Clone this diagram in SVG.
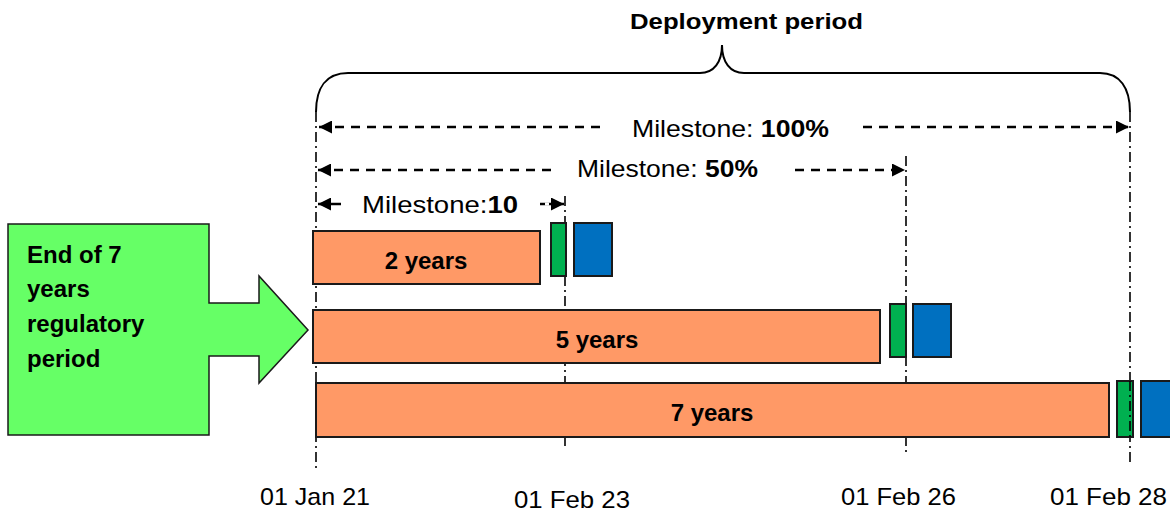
<svg xmlns="http://www.w3.org/2000/svg" width="1170" height="512" viewBox="0 0 1170 512">
  <defs>
    <marker id="tip" viewBox="0 0 10 10" refX="10" refY="5" markerWidth="16" markerHeight="13" markerUnits="userSpaceOnUse" orient="auto-start-reverse">
      <path d="M0,0 L10,5 L0,10 Z" fill="#000"/>
    </marker>
  </defs>
  <style>
    text { font-family: "Liberation Sans", Arial, sans-serif; fill: #000; }
    .b { font-weight: bold; }
    .lbl { font-size: 24px; }
    .bar { fill: #FF9966; stroke: #1a1a1a; stroke-width: 2; }
    .g { fill: #00B050; stroke: #1a1a1a; stroke-width: 2; }
    .bl { fill: #0070C0; stroke: #1a1a1a; stroke-width: 2; }
    .guide { fill: none; stroke: #000; stroke-width: 1.6; stroke-dasharray: 10 4 2 4; }
    .dim { fill: none; stroke: #000; stroke-width: 2.5; stroke-dasharray: 9 7; }
    .dimsolid { fill: none; stroke: #000; stroke-width: 2.5; }
  </style>

  <rect width="1170" height="512" fill="#fff"/>

  <!-- brace over the deployment period -->
  <g id="brace">
    <path d="M316,112 C316,88 326,73 348,73 L700,73 C714,73 722,62 722,45 C722,62 730,73 744,73 L1100,73 C1120,73 1130,88 1130,112" fill="none" stroke="#000" stroke-width="2"/>
    <text class="b" x="630" y="29" font-size="22" textLength="233" lengthAdjust="spacingAndGlyphs">Deployment period</text>
  </g>

  <!-- vertical date guides -->
  <g id="guides">
    <line class="guide" x1="316" y1="112" x2="316" y2="472"/>
    <line class="guide" x1="565" y1="196" x2="565" y2="446"/>
    <line class="guide" x1="906" y1="156" x2="906" y2="452"/>
    <line class="guide" x1="1130" y1="112" x2="1130" y2="462"/>
  </g>

  <!-- milestone dimension arrows -->
  <g id="connectors">
    <line class="dim" x1="319" y1="127" x2="606" y2="127" marker-start="url(#tip)"/>
    <line class="dim" x1="863" y1="127" x2="1129" y2="127" marker-end="url(#tip)"/>
    <line class="dim" x1="318" y1="170" x2="556" y2="170" marker-start="url(#tip)"/>
    <line class="dim" x1="795" y1="170" x2="905" y2="170" marker-end="url(#tip)"/>
    <line class="dimsolid" x1="318" y1="204" x2="341" y2="204" marker-start="url(#tip)"/>
    <line class="dimsolid" x1="540" y1="204" x2="564" y2="204" marker-end="url(#tip)"/>
    <line x1="545" y1="204" x2="549" y2="204" stroke="#fff" stroke-width="3"/>
  </g>

  <g id="milestone-100">
    <text class="lbl" x="632" y="137" textLength="197" lengthAdjust="spacingAndGlyphs">Milestone: <tspan class="b">100%</tspan></text>
  </g>
  <g id="milestone-50">
    <text class="lbl" x="577" y="177" textLength="181" lengthAdjust="spacingAndGlyphs">Milestone: <tspan class="b">50%</tspan></text>
  </g>
  <g id="milestone-10">
    <text class="lbl" x="362" y="213" textLength="156" lengthAdjust="spacingAndGlyphs">Milestone:<tspan class="b">10</tspan></text>
  </g>

  <!-- regulatory period arrow -->
  <g id="regulatory">
    <path d="M8,224 L209,224 L209,303 L259,303 L259,276 L308,330 L259,383 L259,356 L209,356 L209,435 L8,435 Z" fill="#66FF66" stroke="#1a1a1a" stroke-width="1.5"/>
    <text class="b lbl" x="27" y="263">End of 7</text>
    <text class="b lbl" x="27" y="297">years</text>
    <text class="b lbl" x="27" y="332">regulatory</text>
    <text class="b lbl" x="27" y="367">period</text>
  </g>

  <!-- deployment bars -->
  <g id="bar-2y">
    <rect class="bar" x="313" y="231" width="227" height="53"/>
    <text class="b lbl" x="426" y="269" text-anchor="middle">2 years</text>
    <rect class="g" x="551" y="223" width="15" height="53"/>
    <rect class="bl" x="574" y="223" width="38" height="53"/>
  </g>
  <g id="bar-5y">
    <rect class="bar" x="313" y="310" width="567" height="53"/>
    <text class="b lbl" x="597" y="348" text-anchor="middle">5 years</text>
    <rect class="g" x="890" y="304" width="16" height="53"/>
    <rect class="bl" x="913" y="304" width="38" height="53"/>
  </g>
  <g id="bar-7y">
    <rect class="bar" x="316" y="383" width="793" height="54"/>
    <text class="b lbl" x="712" y="421" text-anchor="middle">7 years</text>
    <rect class="g" x="1117" y="381" width="16" height="56"/>
    <rect class="bl" x="1141" y="381" width="38" height="56"/>
  </g>
  <!-- guide crossing the last green marker -->
  <line class="guide" x1="1130" y1="381" x2="1130" y2="437"/>

  <!-- date axis labels -->
  <g id="dates">
    <text class="lbl" x="260" y="505" textLength="110" lengthAdjust="spacingAndGlyphs">01 Jan 21</text>
    <text class="lbl" x="514" y="508" textLength="116" lengthAdjust="spacingAndGlyphs">01 Feb 23</text>
    <text class="lbl" x="841" y="505" textLength="115" lengthAdjust="spacingAndGlyphs">01 Feb 26</text>
    <text class="lbl" x="1050" y="505" textLength="117" lengthAdjust="spacingAndGlyphs">01 Feb 28</text>
  </g>
</svg>
